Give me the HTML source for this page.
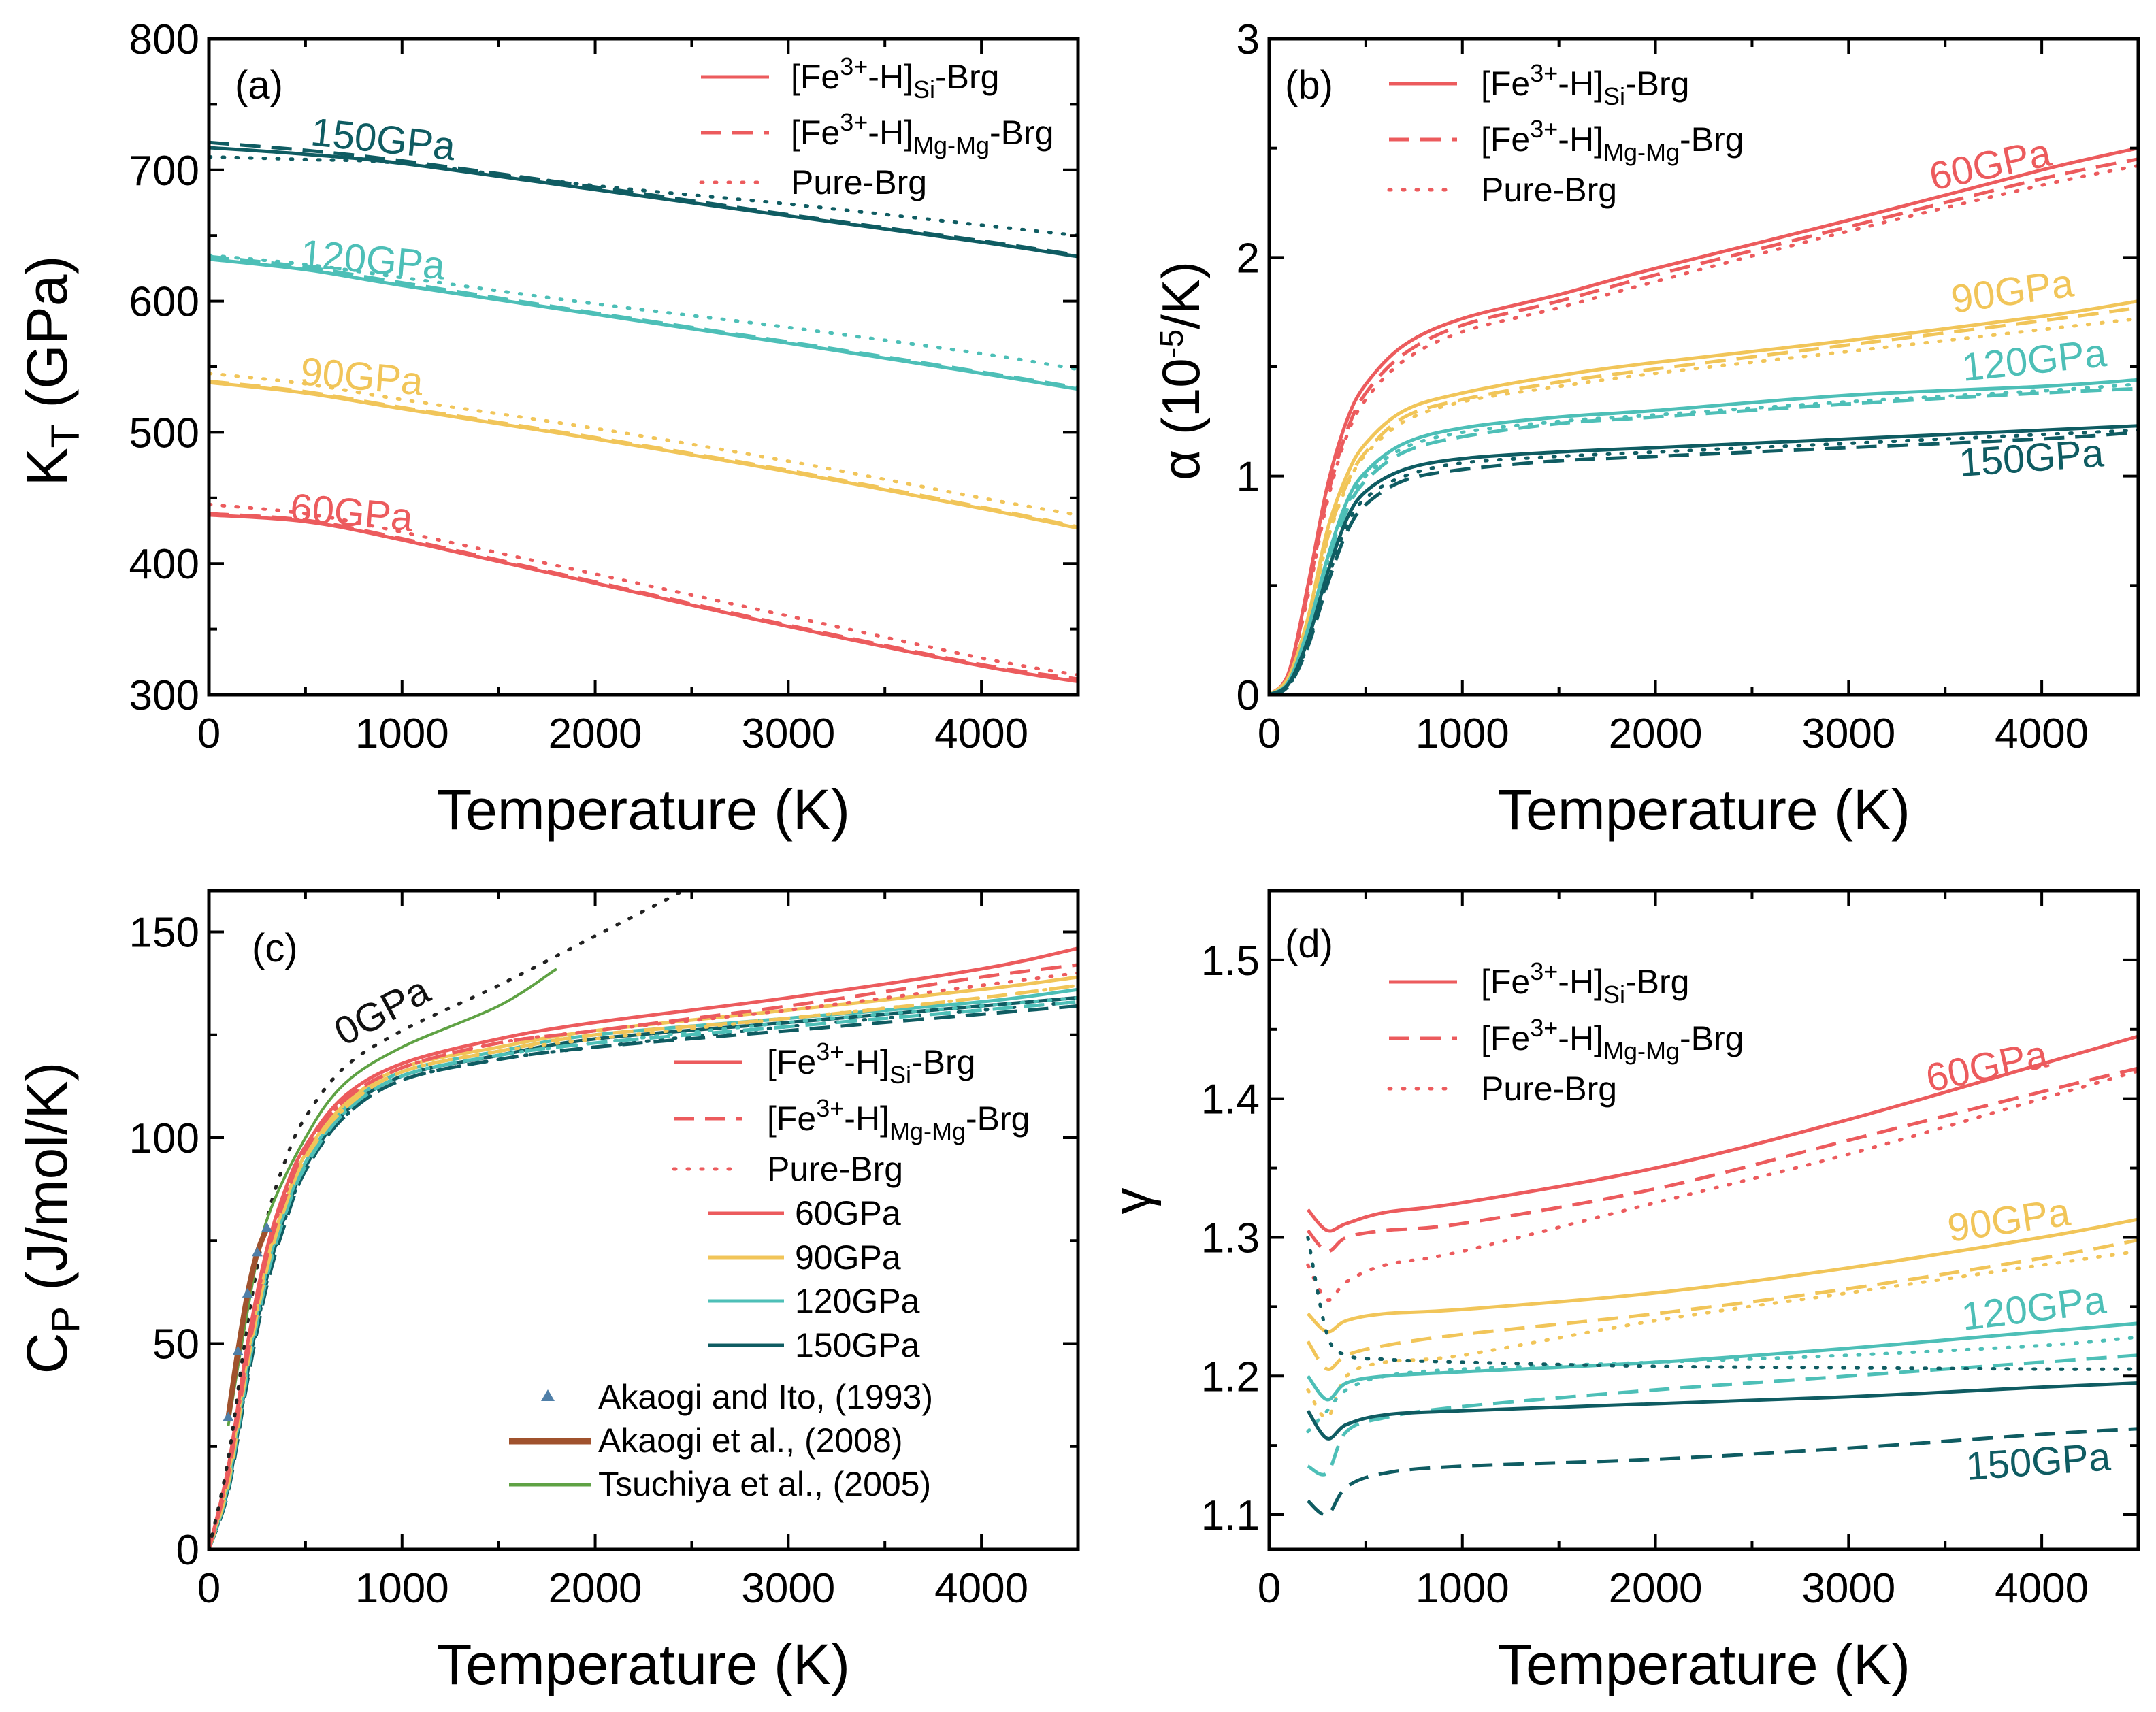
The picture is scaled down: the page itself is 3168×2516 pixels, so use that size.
<!DOCTYPE html>
<html><head><meta charset="utf-8"><style>
html,body{margin:0;padding:0;background:#fff;}
svg{display:block;font-family:"Liberation Sans",Arial,sans-serif;}
</style></head><body>
<svg id="fig" width="3168" height="2516" viewBox="0 0 3168 2516" xmlns="http://www.w3.org/2000/svg"></svg>
<script>
// ---- shared data ----
const pressures = ['60GPa','90GPa','120GPa','150GPa'];
const colors = ['#ec5b5d','#f1c559','#4dbfb7','#0f5c62'];
// (a) K_T
const aT = [0,500,1000,2000,3000,4000,4500];
const aSolid = [[437,432,418,385,352,322,310],[538,530,518,495,470,442,427],[632,624,612,590,568,545,533],[717,712,705,685,665,645,634]];
const aDash  = [[438,433,419,386,353,323,312],[539,531,519,496,471,443,428],[634,626,614,591,569,546,534],[721,715,707,687,666,646,635]];
const aDot   = [[445,438,424,392,360,328,315],[545,537,525,503,478,450,437],[635,628,618,598,580,560,548],[710,708,705,688,674,658,650]];
// (b) alpha
const bT = [0,100,200,300,400,500,700,1000,1500,2000,3000,4000,4500];
const bSolid = [[0,0.1,0.5,0.95,1.25,1.42,1.6,1.72,1.83,1.95,2.17,2.4,2.5],[0,0.08,0.35,0.75,1.0,1.15,1.3,1.38,1.46,1.52,1.62,1.73,1.8],[0,0.06,0.3,0.62,0.88,1.02,1.15,1.22,1.27,1.3,1.37,1.41,1.44],[0,0.05,0.25,0.55,0.8,0.93,1.03,1.08,1.11,1.13,1.17,1.21,1.23]];
const bDash  = [[0,0.09,0.47,0.9,1.2,1.38,1.56,1.69,1.8,1.92,2.14,2.36,2.45],[0,0.07,0.33,0.71,0.96,1.11,1.27,1.35,1.43,1.49,1.6,1.71,1.77],[0,0.05,0.28,0.58,0.84,0.98,1.11,1.18,1.24,1.27,1.33,1.38,1.4],[0,0.04,0.22,0.5,0.74,0.87,0.98,1.03,1.07,1.09,1.13,1.17,1.2]];
const bDot   = [[0,0.09,0.45,0.88,1.18,1.35,1.53,1.66,1.77,1.89,2.12,2.33,2.42],[0,0.07,0.32,0.7,0.95,1.1,1.25,1.34,1.41,1.47,1.57,1.67,1.72],[0,0.05,0.28,0.6,0.86,1.0,1.13,1.2,1.25,1.28,1.34,1.39,1.42],[0,0.04,0.23,0.52,0.77,0.9,1.0,1.06,1.09,1.11,1.15,1.19,1.21]];
// (c) Cp
const cT = [0,100,200,300,400,500,700,1000,1500,2000,3000,4000,4500];
const cSolid = [[0,20,50,73,88,98,110,118,124,128,134,141,146],[0,18,47,70,85,96,108,117,122,126,131,136,139],[0,16,45,68,83,94,107,116,121,125,129,133,136],[0,15,43,66,82,93,106,115,120,124,128,132,134]];
const cDash  = [[0,18,47,71,86,97,109,117,123,126,132,139,142],[0,16,45,68,84,95,107,116,121,125,129,134,137],[0,15,43,66,82,93,106,115,120,123,127,131,133],[0,14,41,64,80,92,105,114,119,122,126,130,132]];
const cDot   = [[0,19,48,72,87,97,109,117,123,126,131,137,140],[0,17,46,69,85,95,107,116,121,124,129,134,137],[0,16,44,67,83,94,106,115,120,123,128,132,134],[0,15,42,65,81,92,105,114,119,122,127,131,133]];
const c0T = [0,100,200,300,400,500,700,1000,1500,2000,2500];
const c0Val = [0,22,55,80,95,105,117,126,137,149,161];
const tsT = [100,200,300,500,700,1000,1500,1800];
const tsVal = [30,58,80,100,113,122,132,141];
const akT = [100,150,200,250,300];
const akVal = [32,48,62,72,78];
// (d) gamma
const dT = [200,300,400,600,1000,2000,3000,4000,4500];
const dSolid = [[1.32,1.305,1.31,1.318,1.325,1.35,1.385,1.425,1.445],[1.245,1.232,1.24,1.245,1.248,1.26,1.278,1.3,1.313],[1.2,1.183,1.195,1.2,1.203,1.21,1.22,1.232,1.238],[1.175,1.155,1.165,1.172,1.175,1.18,1.185,1.192,1.195]];
const dDash  = [[1.305,1.29,1.3,1.305,1.31,1.335,1.37,1.405,1.422],[1.225,1.205,1.215,1.222,1.23,1.245,1.263,1.285,1.298],[1.135,1.13,1.16,1.17,1.178,1.19,1.2,1.21,1.215],[1.11,1.1,1.12,1.13,1.135,1.14,1.148,1.158,1.162]];
const dDot   = [[1.28,1.255,1.268,1.28,1.29,1.325,1.36,1.4,1.42],[1.19,1.17,1.2,1.21,1.215,1.24,1.26,1.28,1.29],[1.16,1.175,1.19,1.2,1.205,1.21,1.215,1.222,1.228],[1.3,1.23,1.215,1.212,1.21,1.207,1.206,1.205,1.205]];

// ---- drawing ----
const NS='http://www.w3.org/2000/svg';
const svg=document.getElementById('fig');
function mk(tag,attrs,parent){const e=document.createElementNS(NS,tag);for(const k in attrs)e.setAttribute(k,attrs[k]);(parent||svg).appendChild(e);return e;}
const DASH={solid:null,dash:'30 16',dot:'3 17'};

function panel(name,x0,y0,x1,y1,ymin,ymax,yMajor,yMinor,yFmt){
  const g=mk('g',{});
  
  
  const sx=v=>x0+(v-0)/4500*(x1-x0);
  const sy=v=>y1-(v-ymin)/(ymax-ymin)*(y1-y0);
  const clipId=name+'-clip';
  const cp=mk('clipPath',{id:clipId},g);mk('rect',{x:x0,y:y0,width:x1-x0,height:y1-y0},cp);
  const plot=mk('g',{'clip-path':'url(#'+clipId+')'},g);
  
  
  for(let t=0;t<=4500;t+=500){
    const major=t%1000===0;const L=major?22:12;
    mk('line',{x1:sx(t),x2:sx(t),y1:y1,y2:y1-L,stroke:'#000','stroke-width':4},g);
    mk('line',{x1:sx(t),x2:sx(t),y1:y0,y2:y0+L,stroke:'#000','stroke-width':4},g);
    if(major){const tx=mk('text',{x:sx(t),y:y1+78,'font-size':62,'text-anchor':'middle'},g);tx.textContent=t;
      }
  }
  const k0=Math.ceil(ymin/yMinor-1e-6), k1=Math.floor(ymax/yMinor+1e-6);
  const per=Math.round(yMajor/yMinor);
  for(let k=k0;k<=k1;k++){
    const vv=k*yMinor;
    const major=(k%per)===0;
    const L=major?22:12;
    mk('line',{x1:x0,x2:x0+L,y1:sy(vv),y2:sy(vv),stroke:'#000','stroke-width':4},g);
    mk('line',{x1:x1,x2:x1-L,y1:sy(vv),y2:sy(vv),stroke:'#000','stroke-width':4},g);
    if(major){const tx=mk('text',{x:x0-14,y:sy(vv)+22,'font-size':62,'text-anchor':'end'},g);tx.textContent=yFmt(vv);
      }
  }
  mk('rect',{x:x0,y:y0,width:x1-x0,height:y1-y0,fill:'none',stroke:'#000','stroke-width':5},g);
  const xt=mk('text',{x:(x0+x1)/2,y:y1+198,'font-size':84,'text-anchor':'middle'},g);xt.textContent='Temperature (K)';
  
  return {g,plot,sx,sy};
}
function smoothPath(pts){
  let d='M'+pts[0][0].toFixed(1)+','+pts[0][1].toFixed(1);
  for(let i=0;i<pts.length-1;i++){
    const p0=pts[Math.max(0,i-1)],p1=pts[i],p2=pts[i+1],p3=pts[Math.min(pts.length-1,i+2)];
    const c1=[p1[0]+(p2[0]-p0[0])/6,p1[1]+(p2[1]-p0[1])/6];
    const c2=[p2[0]-(p3[0]-p1[0])/6,p2[1]-(p3[1]-p1[1])/6];
    d+=' C'+c1[0].toFixed(1)+','+c1[1].toFixed(1)+' '+c2[0].toFixed(1)+','+c2[1].toFixed(1)+' '+p2[0].toFixed(1)+','+p2[1].toFixed(1);
  }
  return d;
}
function curve(P,xs,ys,color,style,w,name){
  const d=smoothPath(xs.map((x,i)=>[P.sx(x),P.sy(ys[i])]));
  const a={d:d,fill:'none',stroke:color,'stroke-width':w||5,'stroke-linejoin':'round'};
  if(DASH[style]){a['stroke-dasharray']=DASH[style];}
  if(style==='dot')a['stroke-linecap']='round';
  const p=mk('path',a,P.plot);
  
  
  return p;
}
function txt(parent,x,y,s,size,attrs){const t=mk('text',Object.assign({x:x,y:y,'font-size':size},attrs||{}),parent);t.innerHTML=s;return t;}
function legend3(P,lx,tx,ys){
  const lg=mk('g',{},P.g);
  
  
  const st=['solid','dash','dot'];
  const lab=['[Fe<tspan dy="-20" font-size="36">3+</tspan><tspan dy="20">-H]</tspan><tspan dy="14" font-size="36">Si</tspan><tspan dy="-14">-Brg</tspan>',
             '[Fe<tspan dy="-20" font-size="36">3+</tspan><tspan dy="20">-H]</tspan><tspan dy="14" font-size="36">Mg-Mg</tspan><tspan dy="-14">-Brg</tspan>',
             'Pure-Brg'];
  st.forEach((s,i)=>{
    const a={x1:lx,x2:lx+100,y1:ys[i]-17,y2:ys[i]-17,stroke:colors[0],'stroke-width':5};
    if(DASH[s])a['stroke-dasharray']=DASH[s];if(s==='dot')a['stroke-linecap']='round';
    const l=mk('line',a,lg);
    
    const t=txt(lg,tx,ys[i],lab[i],50);
    
  });
}
function plabel(P,x,y,s,color,rot,name){
  const t=txt(P.g,x,y,s,58,{fill:color,transform:'rotate('+rot+' '+x+' '+y+')'});
  
}

// Panel a
const A=panel('panel-a-bulk-modulus',307,57,1584,1021,300,800,100,50,v=>v);
for(let i=0;i<4;i++){curve(A,aT,aDot[i],colors[i],'dot',5,'kt-pure-'+pressures[i]);curve(A,aT,aDash[i],colors[i],'dash',5,'kt-mgmg-'+pressures[i]);curve(A,aT,aSolid[i],colors[i],'solid',5,'kt-si-'+pressures[i]);}
legend3(A,1030,1162,[130,212,285]);
txt(A.g,345,145,'(a)',58);
plabel(A,455,213,'150GPa',colors[3],6,'label-150gpa');
plabel(A,440,392,'120GPa',colors[2],5,'label-120gpa');
plabel(A,440,565,'90GPa',colors[1],5,'label-90gpa');
plabel(A,425,765,'60GPa',colors[0],5,'label-60gpa');
const ayt=txt(A.g,0,0,'K<tspan dy="18" font-size="58">T</tspan><tspan dy="-18"> (GPa)</tspan>',84,{transform:'translate(98,545) rotate(-90)','text-anchor':'middle'});


// Panel b
const B=panel('panel-b-thermal-expansion',1865,57,3142,1021,0,3,1,0.5,v=>v);
for(let i=0;i<4;i++){curve(B,bT,bDot[i],colors[i],'dot',5,'alpha-pure-'+pressures[i]);curve(B,bT,bDash[i],colors[i],'dash',5,'alpha-mgmg-'+pressures[i]);curve(B,bT,bSolid[i],colors[i],'solid',5,'alpha-si-'+pressures[i]);}
legend3(B,2041,2176,[140,222,296]);
txt(B.g,1888,145,'(b)',58);
plabel(B,2840,280,'60GPa',colors[0],-12,'label-60gpa');
plabel(B,2870,460,'90GPa',colors[1],-8,'label-90gpa');
plabel(B,2885,560,'120GPa',colors[2],-6,'label-120gpa');
plabel(B,2880,700,'150GPa',colors[3],-4,'label-150gpa');
const byt=txt(B.g,0,0,'α (10<tspan dy="-24" font-size="48">-5</tspan><tspan dy="24">/K)</tspan>',78,{transform:'translate(1762,545) rotate(-90)','text-anchor':'middle'});


// Panel c
const C=panel('panel-c-heat-capacity',307,1309,1584,2277,0,160,50,25,v=>v);
for(let i=3;i>=0;i--){curve(C,cT,cDot[i],colors[i],'dot',5,'cp-pure-'+pressures[i]);curve(C,cT,cDash[i],colors[i],'dash',5,'cp-mgmg-'+pressures[i]);curve(C,cT,cSolid[i],colors[i],'solid',5,'cp-si-'+pressures[i]);}
curve(C,c0T,c0Val,'#222','dot',5,'cp-0gpa-pure');
curve(C,tsT,tsVal,'#5fa244','solid',4,'cp-tsuchiya-2005');
curve(C,akT,akVal,'#a0522d','solid',8,'cp-akaogi-2008');
akT.forEach((t,i)=>{const p=mk('path',{d:`M${C.sx(t)},${C.sy(akVal[i])-9} l8,14 l-16,0 z`,fill:'#4f7fa8'},C.plot);
  });
legend3(C,990,1127,[1578,1661,1735]);
const cl=mk('g',{},C.g);
[1800,1865,1929,1994].forEach((y,i)=>{mk('line',{x1:1040,x2:1152,y1:y-17,y2:y-17,stroke:colors[i],'stroke-width':5},cl);
  const t=txt(cl,1168,y,pressures[i],50);});
const rl=mk('g',{},C.g);
mk('path',{d:'M805,2042 l10,17 l-20,0 z',fill:'#4f7fa8'},rl);
txt(rl,879,2070,'Akaogi and Ito, (1993)',50);
mk('line',{x1:748,x2:869,y1:2118,y2:2118,stroke:'#a0522d','stroke-width':9},rl);
txt(rl,879,2134,'Akaogi et al., (2008)',50);
mk('line',{x1:748,x2:869,y1:2182,y2:2182,stroke:'#5fa244','stroke-width':5},rl);
txt(rl,879,2198,'Tsuchiya et al., (2005)',50);
txt(C.g,370,1413,'(c)',58);
plabel(C,505,1538,'0GPa','#111',-28,'label-0gpa');
const cyt=txt(C.g,0,0,'C<tspan dy="18" font-size="58">P</tspan><tspan dy="-18"> (J/mol/K)</tspan>',84,{transform:'translate(98,1790) rotate(-90)','text-anchor':'middle'});


// Panel d
const D=panel('panel-d-gruneisen',1865,1309,3142,2277,1.075,1.55,0.1,0.05,v=>v.toFixed(1));
for(let i=0;i<4;i++){curve(D,dT,dDot[i],colors[i],'dot',5,'gamma-pure-'+pressures[i]);curve(D,dT,dDash[i],colors[i],'dash',5,'gamma-mgmg-'+pressures[i]);curve(D,dT,dSolid[i],colors[i],'solid',5,'gamma-si-'+pressures[i]);}
legend3(D,2041,2176,[1460,1543,1617]);
txt(D.g,1888,1407,'(d)',58);
plabel(D,2835,1605,'60GPa',colors[0],-12,'label-60gpa');
plabel(D,2865,1825,'90GPa',colors[1],-8,'label-90gpa');
plabel(D,2885,1955,'120GPa',colors[2],-7,'label-120gpa');
plabel(D,2890,2175,'150GPa',colors[3],-4,'label-150gpa');
const dyt=txt(D.g,0,0,'γ',78,{transform:'translate(1690,1765) rotate(-90)','text-anchor':'middle'});

</script>
</body></html>
